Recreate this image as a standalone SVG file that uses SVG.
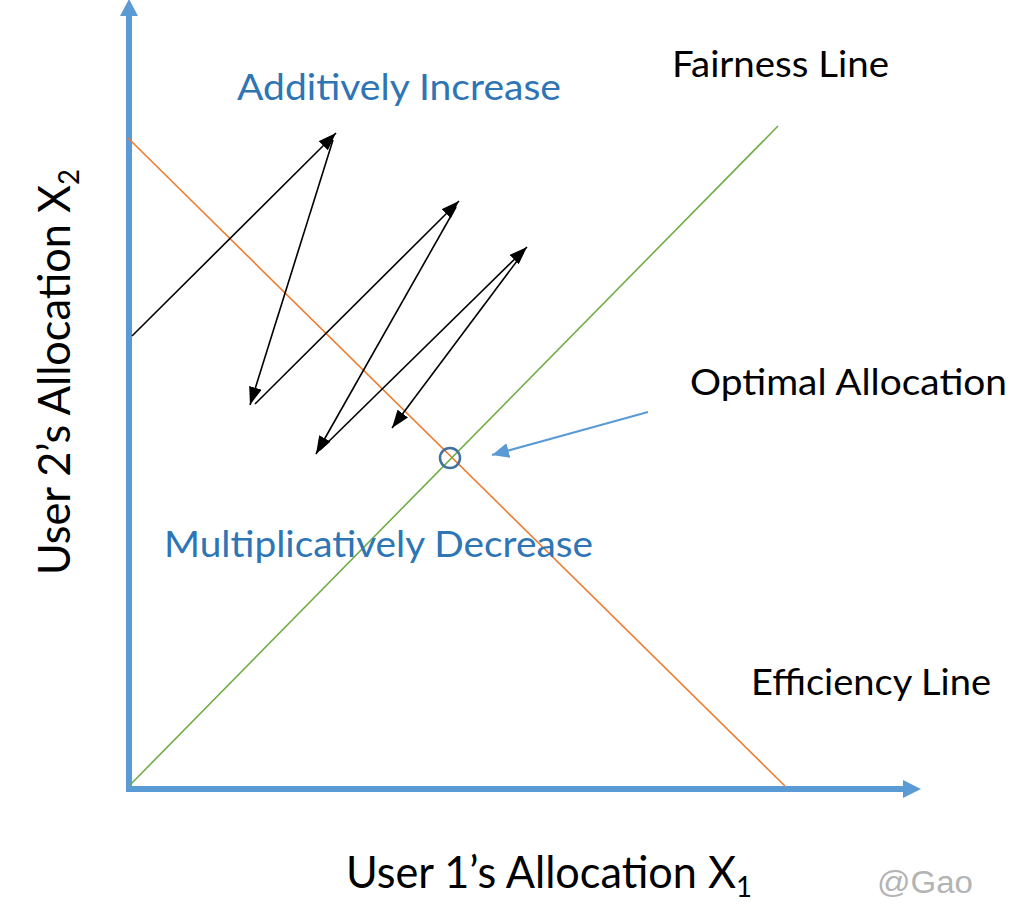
<svg xmlns="http://www.w3.org/2000/svg" width="1013" height="924" viewBox="0 0 1013 924">
  <style>
    .lbl { font-family: "Lato", "Liberation Sans", sans-serif; font-size: 36px; fill: #000000; }
    .blue { fill: #2E75B6; }
    .axislbl { font-family: "Lato", "Liberation Sans", sans-serif; font-size: 44px; fill: #000000; }
    .sub { font-size: 28px; }
    .zig { stroke: #000000; stroke-width: 1.6; fill: none; marker-end: url(#blk); }
    .wm { font-family: "Liberation Sans", Arial, sans-serif; font-size: 31px; fill: #B4B4B4; }
  </style>
  <defs>
    <marker id="blk" markerUnits="userSpaceOnUse" markerWidth="18" markerHeight="13" refX="18" refY="6.5" orient="auto" viewBox="0 0 18 13">
      <path d="M0,0 L18,6.5 L0,13 z" fill="#000000"/>
    </marker>
    <marker id="bluehead" markerUnits="userSpaceOnUse" markerWidth="17" markerHeight="15" refX="17" refY="7.5" orient="auto" viewBox="0 0 17 15">
      <path d="M0,0 L17,7.5 L0,15 z" fill="#5B9BD5"/>
    </marker>
  </defs>

  <rect x="0" y="0" width="1013" height="924" fill="#FFFFFF"/>

  <g id="axes">
    <line x1="129" y1="792" x2="129" y2="14" stroke="#5B9BD5" stroke-width="6"/>
    <polygon points="120,16 138,16 129,-1" fill="#5B9BD5"/>
    <line x1="126" y1="789" x2="905" y2="789" stroke="#5B9BD5" stroke-width="6"/>
    <polygon points="903,780 903,798 921,789" fill="#5B9BD5"/>
  </g>

  <g id="efficiency-line">
    <line x1="128" y1="138" x2="785" y2="786" stroke="#ED7D31" stroke-width="1.6"/>
  </g>
  <g id="fairness-line">
    <line x1="130" y1="785" x2="778" y2="126" stroke="#70AD47" stroke-width="1.6"/>
  </g>

  <g id="connectors">
    <line class="zig" x1="132" y1="336" x2="336" y2="133"/>
    <line class="zig" x1="333" y1="140" x2="250" y2="405"/>
    <line class="zig" x1="255" y1="404" x2="459" y2="201"/>
    <line class="zig" x1="456" y1="207" x2="316" y2="454"/>
    <line class="zig" x1="320" y1="450" x2="527" y2="247"/>
    <line class="zig" x1="523" y1="253" x2="392" y2="428"/>
    <line x1="648" y1="412" x2="492" y2="455" stroke="#5B9BD5" stroke-width="2" marker-end="url(#bluehead)"/>
  </g>

  <g id="optimal-point">
    <circle cx="450" cy="458" r="10" fill="none" stroke="#41719C" stroke-width="2.5"/>
  </g>

  <g id="label-additive">
    <text class="lbl blue" x="237" y="100" textLength="324" lengthAdjust="spacingAndGlyphs">Additively Increase</text>
  </g>
  <g id="label-fairness">
    <text class="lbl" x="672" y="77" textLength="217" lengthAdjust="spacingAndGlyphs">Fairness Line</text>
  </g>
  <g id="label-optimal">
    <text class="lbl" x="690" y="395" textLength="317" lengthAdjust="spacingAndGlyphs">Optimal Allocation</text>
  </g>
  <g id="label-multiplicative">
    <text class="lbl blue" x="164" y="557" textLength="429" lengthAdjust="spacingAndGlyphs">Multiplicatively Decrease</text>
  </g>
  <g id="label-efficiency">
    <text class="lbl" x="751" y="695" textLength="240" lengthAdjust="spacingAndGlyphs">Efficiency Line</text>
  </g>

  <g id="label-x-axis">
    <text class="axislbl" x="346" y="888" textLength="406" lengthAdjust="spacingAndGlyphs">User 1’s Allocation X<tspan class="sub" dy="9">1</tspan></text>
  </g>
  <g id="label-y-axis">
    <text class="axislbl" transform="translate(70,575) rotate(-90)" x="0" y="0" textLength="406" lengthAdjust="spacingAndGlyphs">User 2’s Allocation X<tspan class="sub" dy="9">2</tspan></text>
  </g>

  <g id="watermark">
    <text class="wm" x="877" y="893" textLength="96" lengthAdjust="spacingAndGlyphs">@Gao</text>
  </g>
</svg>
